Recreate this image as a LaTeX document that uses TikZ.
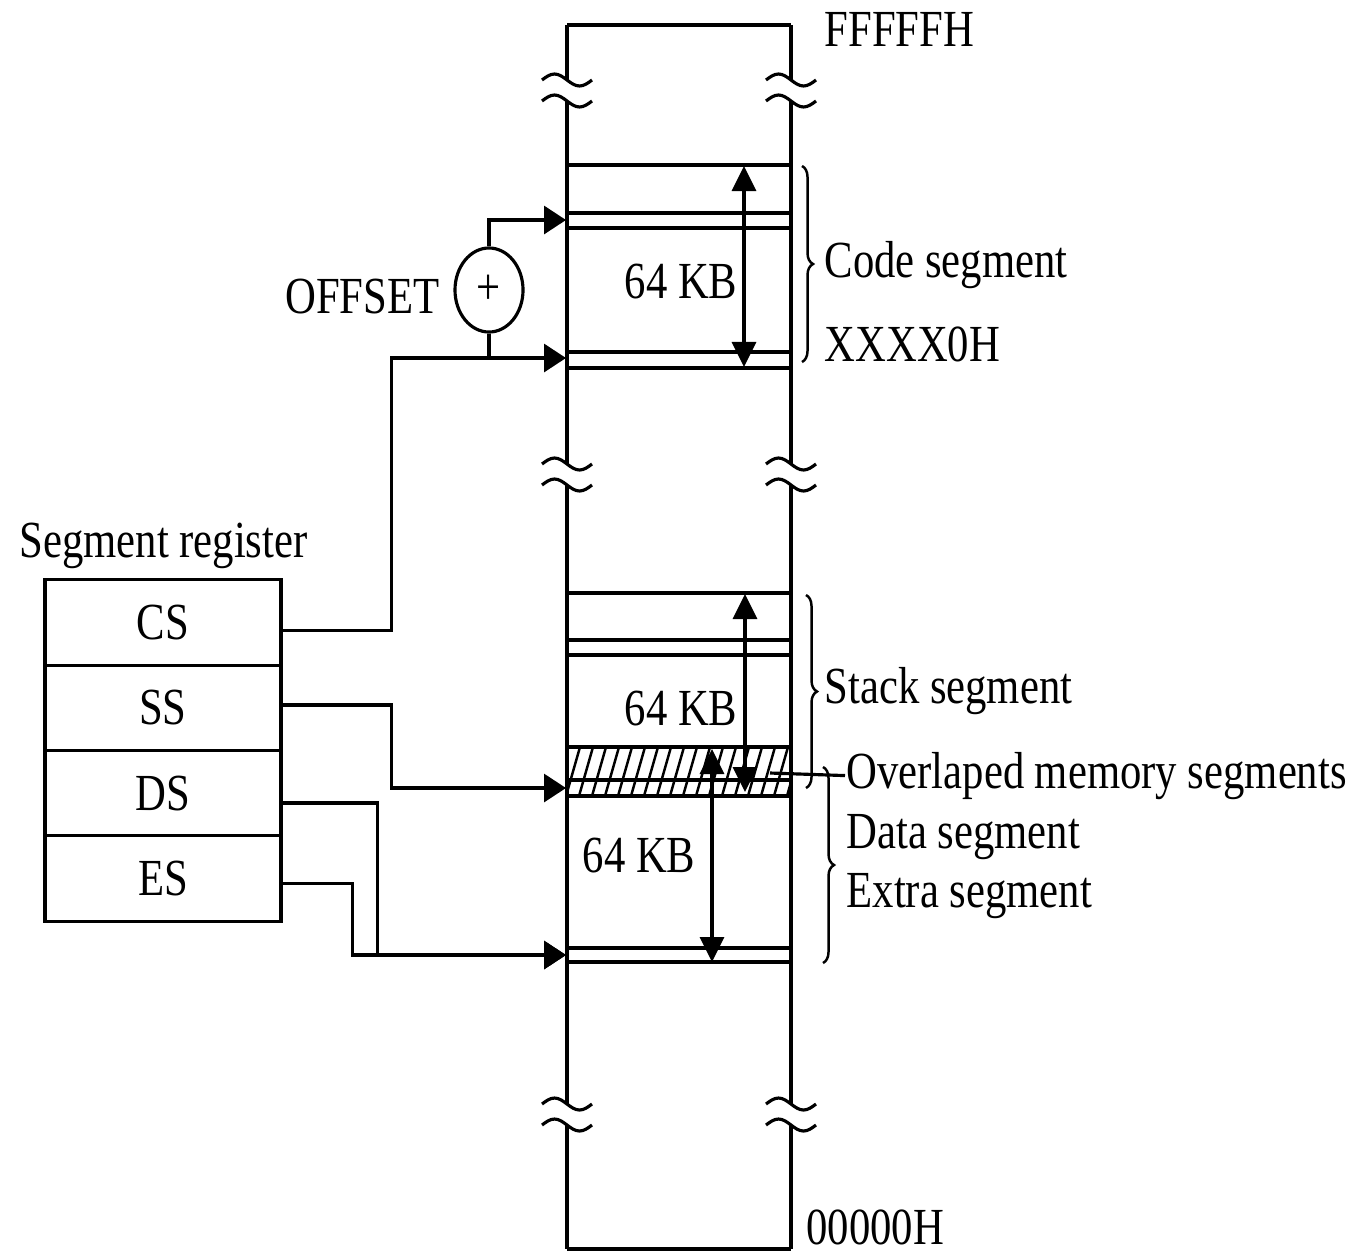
\documentclass[tikz,border=0pt]{standalone}
\usepackage{fontspec}
\setmainfont[FakeStretch=0.82]{Liberation Serif}
\usetikzlibrary{arrows.meta,shapes.geometric,decorations.pathreplacing}

\begin{document}
\begin{tikzpicture}[x=0.01cm,y=-0.01cm,line width=0.9pt,
    txt/.style={inner sep=0pt,font=\fontsize{14.8}{17}\selectfont},
    reg/.style={draw,minimum width=2.36cm,minimum height=0.855cm,
        inner sep=0pt,font=\fontsize{14.8}{17}\selectfont},
    adder/.style={draw,ellipse,minimum width=0.68cm,minimum height=0.84cm,
        inner sep=0pt,font=\fontsize{14.8}{17}\selectfont},
    flow/.style={-{Triangle[length=0.22cm,width=0.28cm]}},
    span/.style={{Triangle[length=0.25cm,width=0.24cm]}-{Triangle[length=0.25cm,width=0.24cm]}},
    curly/.style={decorate,decoration={brace,amplitude=0.11cm},line width=0.7pt}
]
    \useasboundingbox (0,0) rectangle (1368,1251);

    % memory column
    \begin{scope}
        \clip (567,747) rectangle (791,796);
        \foreach \xh in {540,553,...,800}
            \draw[line width=0.7pt] (\xh,796) -- (\xh+14,747);
    \end{scope}
    \draw (567,25) -- (791,25);
    \draw (567,1249) -- (791,1249);
    \foreach \yl in {165,213,228,352,368,593,640,655,747,780,796,948,962}
        \draw (567,\yl) -- (791,\yl);
    \foreach \xl in {567,791} {
        \draw (\xl,25) -- (\xl,80) (\xl,101) -- (\xl,464)
              (\xl,485) -- (\xl,1104) (\xl,1125) -- (\xl,1249);
        \foreach \yb in {80,101,464,485,1104,1125}
            \draw (\xl-25,\yb) sin (\xl-12.5,\yb-6) cos (\xl,\yb)
                  sin (\xl+12.5,\yb+6) cos (\xl+25,\yb);
    }

    % segment sizes
    \draw[span] (744,166) -- (744,367);
    \draw[span] (745,594) -- (745,792);
    \draw[span] (712,749) -- (712,962);
    \node[txt,anchor=base] (kbcode) at (681,298) {64 KB};
    \node[txt,anchor=base] (kbstack) at (681,725) {64 KB};
    \node[txt,anchor=base] (kbdata) at (639,872) {64 KB};

    % labels on the right
    \node[txt,anchor=base west] (top) at (823,46) {FFFFFH};
    \node[txt,anchor=base west] (code) at (823,277) {Code segment};
    \node[txt,anchor=base west] (base) at (823,361) {XXXX0H};
    \node[txt,anchor=base west] (stack) at (823,703) {Stack segment};
    \node[txt,anchor=base west] (ovl) at (845,788) {Overlaped memory segments};
    \node[txt,anchor=base west] (data) at (845,848) {Data segment};
    \node[txt,anchor=base west] (extra) at (845,907) {Extra segment};
    \node[txt,anchor=base west] (bottom) at (805,1244) {00000H};
    \draw[curly] (802,166) -- (802,362);
    \draw[curly] (806,595) -- (806,788);
    \draw[curly] (823,767) -- (823,963);
    \coordinate (ovlfrom) at (770,773);
    \draw (ovlfrom) -- (ovl.west);

    % segment registers
    \node[txt,anchor=base west] (reglbl) at (18,557) {Segment register};
    \node[reg] (CS) at (163,622.5) {CS};
    \node[reg] (SS) at (163,708) {SS};
    \node[reg] (DS) at (163,793) {DS};
    \node[reg] (ES) at (163,878.5) {ES};

    % offset adder
    \node[adder] (add) at (489,290) {+};
    \node[txt,anchor=base east] (offlbl) at (441,313) {OFFSET};

    \coordinate (offin) at (566,220);
    \coordinate (csin) at (566,358);
    \coordinate (ssin) at (566,788);
    \coordinate (esin) at (566,955);
    \draw[flow] (add.north) |- (offin);
    \draw (add.south) -- (add.south |- csin);
    \draw[flow] ([yshift=-0.08cm]CS.east) -- ++(109,0) |- (csin);
    \draw[flow] ([yshift=0.03cm]SS.east) -- ++(109,0) |- (ssin);
    \draw[flow] ([yshift=-0.1cm]DS.east) -- ++(95,0) |- (esin);
    \draw[flow] ([yshift=-0.05cm]ES.east) -- ++(70,0) |- (esin);
\end{tikzpicture}
\end{document}
